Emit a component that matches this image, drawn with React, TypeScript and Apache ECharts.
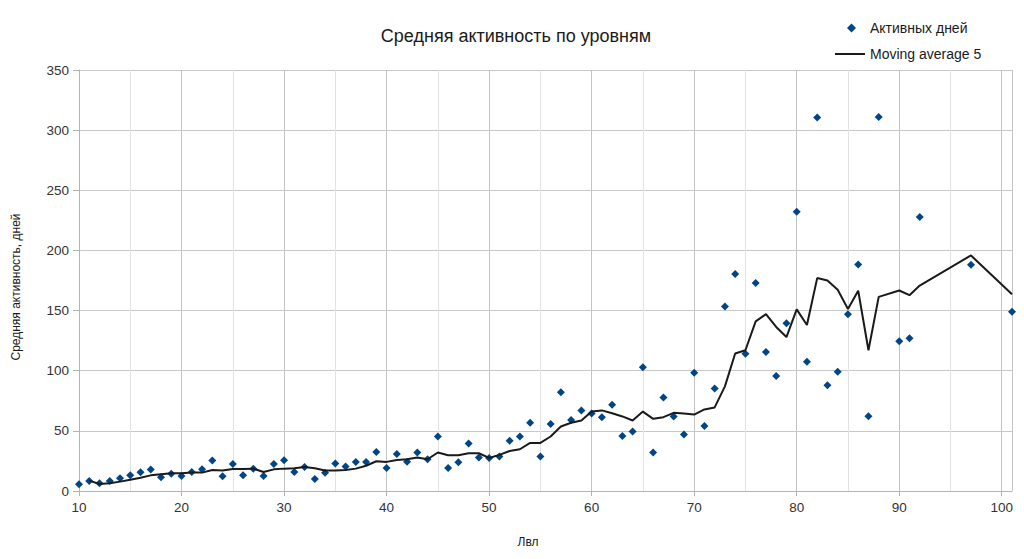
import React, { useEffect, useRef } from "react";
import * as echarts from "echarts";

const levels = [
  10, 11, 12, 13, 14, 15, 16, 17, 18, 19, 20, 21, 22, 23, 24, 25, 26, 27, 28, 29,
  30, 31, 32, 33, 34, 35, 36, 37, 38, 39, 40, 41, 42, 43, 44, 45, 46, 47, 48, 49,
  50, 51, 52, 53, 54, 55, 56, 57, 58, 59, 60, 61, 62, 63, 64, 65, 66, 67, 68, 69,
  70, 71, 72, 73, 74, 75, 76, 77, 78, 79, 80, 81, 82, 83, 84, 85, 86, 87, 88,
  90, 91, 92, 97, 101,
];
const activeDays = [
  5.6, 8.3, 6.4, 8.3, 10.6, 13, 15.6, 17.8, 11.4, 14.4, 12.5, 15.8, 18, 25.3, 12.2, 22.5, 13, 18.6, 12.5, 22.5,
  25.6, 15.8, 20, 10, 15.2, 22.8, 20.3, 24.2, 24.2, 32.5, 19.2, 30.8, 24.4, 32, 26.4, 45.3, 19.2, 23.9, 39.4, 27.8,
  27.5, 28.6, 41.7, 45.3, 56.7, 28.6, 55.8, 82, 59, 67, 64.4, 61.4, 71.7, 45.8, 49.4, 102.8, 32, 77.8, 62, 47,
  98.4, 54, 85.3, 153.3, 180.3, 114, 173, 115.6, 95.6, 139.4, 232.2, 107.5, 310.6, 88, 99.2, 147, 188.2, 62.1, 311,
  124.4, 127, 227.8, 188, 149,
];

const maLevels = [
  11, 12, 13, 14, 15, 16, 17, 18, 19, 20, 21, 22, 23, 24, 25, 26, 27, 28, 29,
  30, 31, 32, 33, 34, 35, 36, 37, 38, 39, 40, 41, 42, 43, 44, 45, 46, 47, 48, 49,
  50, 51, 52, 53, 54, 55, 56, 57, 58, 59, 60, 61, 62, 63, 64, 65, 66, 67, 68, 69,
  70, 71, 72, 73, 74, 75, 76, 77, 78, 79, 80, 81, 82, 83, 84, 85, 86, 87, 88,
  90, 91, 92, 97, 101,
];
const movingAvg = [
  8.6, 5.8, 6.4, 7.8, 9.4, 11, 13, 14, 14.7, 14.7, 15.3, 15.3, 17.5, 17, 18.3, 18.3, 18.6, 15.8, 18,
  18.6, 18.9, 20, 18.9, 17, 17, 17.5, 18.6, 21, 24.7, 24.2, 25.8, 26.4, 27.8, 26.4, 32, 29.7, 29.7, 31.4, 31.4,
  27.5, 30, 33.3, 34.7, 40, 40, 45.3, 53.6, 56.7, 58.6, 66, 67, 64.7, 62, 58.6, 66, 60, 61.4, 65, 64.4,
  63.5, 67.8, 69.5, 87, 114.3, 117, 141, 147, 136.4, 128, 151, 138, 177, 175, 167.3, 151.3, 166.5, 117, 161.4,
  166.7, 162.8, 170.8, 195.8, 163.6,
];

const FONT = "'Liberation Sans', Arial, sans-serif";

export default function App() {
  const ref = useRef<HTMLDivElement>(null);
  useEffect(() => {
    if (!ref.current) return;
    const chart = echarts.init(ref.current, undefined, { renderer: "svg" });
    const scatterData = levels.map((l, i) => [l, activeDays[i]]);
    const lineData = maLevels.map((l, i) => [l, movingAvg[i]]);
    chart.setOption({
      animation: false,
      backgroundColor: "#ffffff",
      textStyle: { fontFamily: FONT },
      title: {
        text: "Средняя активность по уровням",
        left: 511,
        top: 22,
        textAlign: "center",
        textStyle: { fontFamily: FONT, fontSize: 18, fontWeight: "normal", color: "#1a1a1a" },
      },
      legend: [
        {
          orient: "vertical",
          left: 847,
          top: 21,
          padding: 0,
          itemWidth: 9,
          itemHeight: 9,
          icon: "diamond",
          data: ["Активных дней"],
          textStyle: { fontFamily: FONT, fontSize: 14, color: "#1a1a1a", padding: [0, 0, 0, 9] },
        },
        {
          orient: "vertical",
          left: 835,
          top: 47,
          padding: 0,
          itemWidth: 30,
          itemHeight: 2,
          icon: "rect",
          data: ["Moving average 5"],
          textStyle: { fontFamily: FONT, fontSize: 14, color: "#1a1a1a" },
        },
      ],
      grid: { left: 79, top: 70, right: 12, bottom: 68, containLabel: false },
      xAxis: {
        type: "value",
        min: 10,
        max: 101,
        interval: 10,
        axisLine: { show: true, lineStyle: { color: "#b3b3b3" } },
        axisTick: { show: true, length: 5, lineStyle: { color: "#b3b3b3" } },
        axisLabel: { fontFamily: FONT, fontSize: 13.5, color: "#333333", margin: 9, showMaxLabel: false },
        splitLine: { show: true, lineStyle: { color: "#c4c4c4" } },
        minorTick: { show: false, splitNumber: 2 },
        minorSplitLine: { show: true, lineStyle: { color: "#e2e2e2" } },
      },
      yAxis: {
        type: "value",
        min: 0,
        max: 350,
        interval: 50,
        axisLine: { show: true, lineStyle: { color: "#b3b3b3" } },
        axisTick: { show: true, length: 6, lineStyle: { color: "#b3b3b3" } },
        axisLabel: { fontFamily: FONT, fontSize: 13.5, color: "#333333", margin: 10 },
        splitLine: { show: true, lineStyle: { color: "#c8c8c8" } },
      },
      graphic: [
        {
          type: "text",
          x: 15.5,
          y: 287,
          rotation: Math.PI / 2,
          style: {
            text: "Средняя активность, дней",
            fontFamily: FONT,
            fontSize: 12,
            fill: "#1a1a1a",
            align: "center",
            verticalAlign: "middle",
          },
        },
        {
          type: "text",
          x: 528,
          y: 542,
          style: {
            text: "Лвл",
            fontFamily: FONT,
            fontSize: 12,
            fill: "#1a1a1a",
            align: "center",
            verticalAlign: "middle",
          },
        },
      ],
      series: [
        {
          name: "Активных дней",
          type: "scatter",
          data: scatterData,
          symbol: "diamond",
          symbolSize: 8,
          itemStyle: { color: "#004586", opacity: 1 },
        },
        {
          name: "Moving average 5",
          type: "line",
          data: lineData,
          symbol: "none",
          showSymbol: false,
          lineStyle: { color: "#1a1a1a", width: 2 },
          itemStyle: { color: "#1a1a1a" },
          z: 3,
        },
      ],
    });
    return () => chart.dispose();
  }, []);
  return (
    <div
      ref={ref}
      style={{ position: "fixed", left: 0, top: 0, width: 1024, height: 559 }}
    />
  );
}
